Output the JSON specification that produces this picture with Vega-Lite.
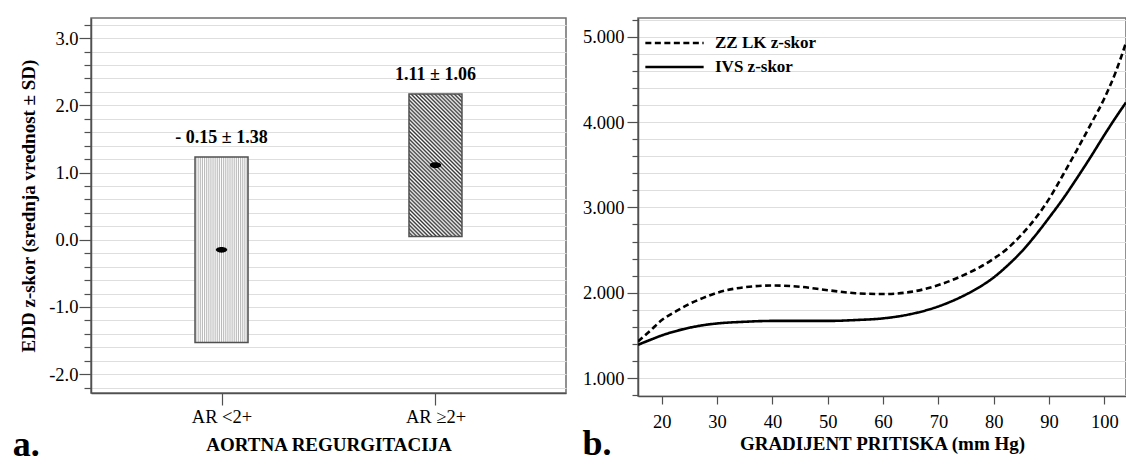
{
  "$schema": "https://vega.github.io/schema/vega-lite/v6.json",
  "padding": {"left": 11, "top": 9, "right": 0, "bottom": 0},
  "background": "white",
  "spacing": 14,
  "resolve": {"legend": {"strokeDash": "independent"}},
  "config": {
    "font": "Liberation Serif",
    "view": {"stroke": "#6e6e6e", "strokeWidth": 1.5},
    "axis": {
      "labelFont": "Liberation Serif", "titleFont": "Liberation Serif",
      "labelColor": "black", "titleColor": "black",
      "domainColor": "#505050", "tickColor": "#505050",
      "domainWidth": 1.5, "tickWidth": 1.2,
      "gridColor": "#dedede", "gridWidth": 1,
      "labelFontSize": 18.5, "titleFontSize": 19, "titleFontWeight": "bold",
      "labelOverlap": false, "labelBound": false
    }
  },
  "hconcat": [
    {
      "width": 475,
      "height": 375,
      "data": {"values": [
        {"grupa": "AR <2+", "mean": -0.15, "lo": -1.53, "hi": 1.23, "label": "- 0.15 ± 1.38"},
        {"grupa": "AR ≥2+", "mean": 1.11, "lo": 0.05, "hi": 2.17, "label": "1.11 ± 1.06"}
      ]},
      "title": {"text": "a.", "orient": "bottom", "anchor": "start", "frame": "bounds", "fontSize": 36, "font": "Liberation Serif", "fontWeight": "bold", "offset": -26, "dx": -7, "color": "black"},
      "layer": [
        {
          "transform": [{"filter": {"field": "grupa", "equal": "AR <2+"}}],
          "mark": {"type": "bar", "width": 53, "stroke": "#505050", "strokeWidth": 1.5,
            "fill": {"gradient": "linear", "x1": 0, "y1": 0, "x2": 1, "y2": 0, "stops": [
              {"offset": 0, "color": "#ffffff"}, {"offset": 0.02, "color": "#b8b8b8"}, {"offset": 0.04, "color": "#ffffff"}, {"offset": 0.06, "color": "#b8b8b8"}, {"offset": 0.08, "color": "#ffffff"},
              {"offset": 0.1, "color": "#b8b8b8"}, {"offset": 0.12, "color": "#ffffff"}, {"offset": 0.14, "color": "#b8b8b8"}, {"offset": 0.16, "color": "#ffffff"}, {"offset": 0.18, "color": "#b8b8b8"},
              {"offset": 0.2, "color": "#ffffff"}, {"offset": 0.22, "color": "#b8b8b8"}, {"offset": 0.24, "color": "#ffffff"}, {"offset": 0.26, "color": "#b8b8b8"}, {"offset": 0.28, "color": "#ffffff"},
              {"offset": 0.3, "color": "#b8b8b8"}, {"offset": 0.32, "color": "#ffffff"}, {"offset": 0.34, "color": "#b8b8b8"}, {"offset": 0.36, "color": "#ffffff"}, {"offset": 0.38, "color": "#b8b8b8"},
              {"offset": 0.4, "color": "#ffffff"}, {"offset": 0.42, "color": "#b8b8b8"}, {"offset": 0.44, "color": "#ffffff"}, {"offset": 0.46, "color": "#b8b8b8"}, {"offset": 0.48, "color": "#ffffff"},
              {"offset": 0.5, "color": "#b8b8b8"}, {"offset": 0.52, "color": "#ffffff"}, {"offset": 0.54, "color": "#b8b8b8"}, {"offset": 0.56, "color": "#ffffff"}, {"offset": 0.58, "color": "#b8b8b8"},
              {"offset": 0.6, "color": "#ffffff"}, {"offset": 0.62, "color": "#b8b8b8"}, {"offset": 0.64, "color": "#ffffff"}, {"offset": 0.66, "color": "#b8b8b8"}, {"offset": 0.68, "color": "#ffffff"},
              {"offset": 0.7, "color": "#b8b8b8"}, {"offset": 0.72, "color": "#ffffff"}, {"offset": 0.74, "color": "#b8b8b8"}, {"offset": 0.76, "color": "#ffffff"}, {"offset": 0.78, "color": "#b8b8b8"},
              {"offset": 0.8, "color": "#ffffff"}, {"offset": 0.82, "color": "#b8b8b8"}, {"offset": 0.84, "color": "#ffffff"}, {"offset": 0.86, "color": "#b8b8b8"}, {"offset": 0.88, "color": "#ffffff"},
              {"offset": 0.9, "color": "#b8b8b8"}, {"offset": 0.92, "color": "#ffffff"}, {"offset": 0.94, "color": "#b8b8b8"}, {"offset": 0.96, "color": "#ffffff"}, {"offset": 0.98, "color": "#b8b8b8"},
              {"offset": 1, "color": "#ffffff"}
            ]}},
          "encoding": {
            "x": {"field": "grupa", "type": "nominal", "title": "AORTNA REGURGITACIJA",
              "scale": {"type": "point", "padding": 0.61, "domain": ["AR <2+", "AR ≥2+"]},
              "axis": {"labelAngle": 0, "tickSize": 12, "labelPadding": 2, "titlePadding": 9.5, "grid": false}},
            "y": {"field": "lo", "type": "quantitative", "title": "EDD z-skor (srednja vrednost ± SD)",
              "scale": {"domain": [-2.28, 3.30], "nice": false, "zero": false},
              "axis": {
                "values": [-2.2,-2,-1.8,-1.6,-1.4,-1.2,-1,-0.8,-0.6,-0.4,-0.2,0,0.2,0.4,0.6,0.8,1,1.2,1.4,1.6,1.8,2,2.2,2.4,2.6,2.8,3,3.2],
                "tickCount": 200,
                "labelExpr": "abs(datum.value - round(datum.value)) < 0.001 ? replace(format(datum.value, '.1f'), '\u2212', '-') : ''",
                "tickSize": {"condition": {"test": "abs(datum.value - round(datum.value)) < 0.001", "value": 12}, "value": 7},
                "labelPadding": 1, "titlePadding": 10, "grid": true
              }},
            "y2": {"field": "hi"}
          }
        },
        {
          "transform": [{"filter": {"field": "grupa", "equal": "AR ≥2+"}}],
          "mark": {"type": "bar", "width": 53, "stroke": "#505050", "strokeWidth": 1.5,
            "fill": {"gradient": "linear", "x1": 0, "y1": 1, "x2": 0.4466, "y2": -0.205, "stops": [
              {"offset": 0, "color": "#333333"}, {"offset": 0.01, "color": "#ffffff"}, {"offset": 0.02, "color": "#333333"}, {"offset": 0.03, "color": "#ffffff"}, {"offset": 0.04, "color": "#333333"},
              {"offset": 0.05, "color": "#ffffff"}, {"offset": 0.06, "color": "#333333"}, {"offset": 0.07, "color": "#ffffff"}, {"offset": 0.08, "color": "#333333"}, {"offset": 0.09, "color": "#ffffff"},
              {"offset": 0.1, "color": "#333333"}, {"offset": 0.11, "color": "#ffffff"}, {"offset": 0.12, "color": "#333333"}, {"offset": 0.13, "color": "#ffffff"}, {"offset": 0.14, "color": "#333333"},
              {"offset": 0.15, "color": "#ffffff"}, {"offset": 0.16, "color": "#333333"}, {"offset": 0.17, "color": "#ffffff"}, {"offset": 0.18, "color": "#333333"}, {"offset": 0.19, "color": "#ffffff"},
              {"offset": 0.2, "color": "#333333"}, {"offset": 0.21, "color": "#ffffff"}, {"offset": 0.22, "color": "#333333"}, {"offset": 0.23, "color": "#ffffff"}, {"offset": 0.24, "color": "#333333"},
              {"offset": 0.25, "color": "#ffffff"}, {"offset": 0.26, "color": "#333333"}, {"offset": 0.27, "color": "#ffffff"}, {"offset": 0.28, "color": "#333333"}, {"offset": 0.29, "color": "#ffffff"},
              {"offset": 0.3, "color": "#333333"}, {"offset": 0.31, "color": "#ffffff"}, {"offset": 0.32, "color": "#333333"}, {"offset": 0.33, "color": "#ffffff"}, {"offset": 0.34, "color": "#333333"},
              {"offset": 0.35, "color": "#ffffff"}, {"offset": 0.36, "color": "#333333"}, {"offset": 0.37, "color": "#ffffff"}, {"offset": 0.38, "color": "#333333"}, {"offset": 0.39, "color": "#ffffff"},
              {"offset": 0.4, "color": "#333333"}, {"offset": 0.41, "color": "#ffffff"}, {"offset": 0.42, "color": "#333333"}, {"offset": 0.43, "color": "#ffffff"}, {"offset": 0.44, "color": "#333333"},
              {"offset": 0.45, "color": "#ffffff"}, {"offset": 0.46, "color": "#333333"}, {"offset": 0.47, "color": "#ffffff"}, {"offset": 0.48, "color": "#333333"}, {"offset": 0.49, "color": "#ffffff"},
              {"offset": 0.5, "color": "#333333"}, {"offset": 0.51, "color": "#ffffff"}, {"offset": 0.52, "color": "#333333"}, {"offset": 0.53, "color": "#ffffff"}, {"offset": 0.54, "color": "#333333"},
              {"offset": 0.55, "color": "#ffffff"}, {"offset": 0.56, "color": "#333333"}, {"offset": 0.57, "color": "#ffffff"}, {"offset": 0.58, "color": "#333333"}, {"offset": 0.59, "color": "#ffffff"},
              {"offset": 0.6, "color": "#333333"}, {"offset": 0.61, "color": "#ffffff"}, {"offset": 0.62, "color": "#333333"}, {"offset": 0.63, "color": "#ffffff"}, {"offset": 0.64, "color": "#333333"},
              {"offset": 0.65, "color": "#ffffff"}, {"offset": 0.66, "color": "#333333"}, {"offset": 0.67, "color": "#ffffff"}, {"offset": 0.68, "color": "#333333"}, {"offset": 0.69, "color": "#ffffff"},
              {"offset": 0.7, "color": "#333333"}, {"offset": 0.71, "color": "#ffffff"}, {"offset": 0.72, "color": "#333333"}, {"offset": 0.73, "color": "#ffffff"}, {"offset": 0.74, "color": "#333333"},
              {"offset": 0.75, "color": "#ffffff"}, {"offset": 0.76, "color": "#333333"}, {"offset": 0.77, "color": "#ffffff"}, {"offset": 0.78, "color": "#333333"}, {"offset": 0.79, "color": "#ffffff"},
              {"offset": 0.8, "color": "#333333"}, {"offset": 0.81, "color": "#ffffff"}, {"offset": 0.82, "color": "#333333"}, {"offset": 0.83, "color": "#ffffff"}, {"offset": 0.84, "color": "#333333"},
              {"offset": 0.85, "color": "#ffffff"}, {"offset": 0.86, "color": "#333333"}, {"offset": 0.87, "color": "#ffffff"}, {"offset": 0.88, "color": "#333333"}, {"offset": 0.89, "color": "#ffffff"},
              {"offset": 0.9, "color": "#333333"}, {"offset": 0.91, "color": "#ffffff"}, {"offset": 0.92, "color": "#333333"}, {"offset": 0.93, "color": "#ffffff"}, {"offset": 0.94, "color": "#333333"},
              {"offset": 0.95, "color": "#ffffff"}, {"offset": 0.96, "color": "#333333"}, {"offset": 0.97, "color": "#ffffff"}, {"offset": 0.98, "color": "#333333"}, {"offset": 0.99, "color": "#ffffff"},
              {"offset": 1, "color": "#333333"}
            ]}},
          "encoding": {
            "x": {"field": "grupa", "type": "nominal"},
            "y": {"field": "lo", "type": "quantitative"},
            "y2": {"field": "hi"}
          }
        },
        {
          "mark": {"type": "point", "shape": "M-1,0A1,0.5 0 1,1 1,0A1,0.5 0 1,1 -1,0Z", "filled": true, "color": "black", "size": 130, "opacity": 1},
          "encoding": {
            "x": {"field": "grupa", "type": "nominal"},
            "y": {"field": "mean", "type": "quantitative"}
          }
        },
        {
          "mark": {"type": "text", "fontWeight": "bold", "fontSize": 18, "dy": -14, "baseline": "alphabetic", "font": "Liberation Serif", "color": "black"},
          "encoding": {
            "x": {"field": "grupa", "type": "nominal"},
            "y": {"field": "hi", "type": "quantitative"},
            "text": {"field": "label"}
          }
        }
      ]
    },
    {
      "width": 488,
      "height": 378,
      "data": {"values": [
        {"serija": "ZZ LK z-skor", "g": 15.7, "z": 1.43},
        {"serija": "ZZ LK z-skor", "g": 18, "z": 1.56},
        {"serija": "ZZ LK z-skor", "g": 20, "z": 1.68},
        {"serija": "ZZ LK z-skor", "g": 22.5, "z": 1.78},
        {"serija": "ZZ LK z-skor", "g": 25, "z": 1.87},
        {"serija": "ZZ LK z-skor", "g": 27.5, "z": 1.94},
        {"serija": "ZZ LK z-skor", "g": 30, "z": 2.0},
        {"serija": "ZZ LK z-skor", "g": 35, "z": 2.065},
        {"serija": "ZZ LK z-skor", "g": 40, "z": 2.085},
        {"serija": "ZZ LK z-skor", "g": 45, "z": 2.07},
        {"serija": "ZZ LK z-skor", "g": 50, "z": 2.03},
        {"serija": "ZZ LK z-skor", "g": 55, "z": 1.995},
        {"serija": "ZZ LK z-skor", "g": 60, "z": 1.985},
        {"serija": "ZZ LK z-skor", "g": 65, "z": 2.01},
        {"serija": "ZZ LK z-skor", "g": 70, "z": 2.09},
        {"serija": "ZZ LK z-skor", "g": 75, "z": 2.22},
        {"serija": "ZZ LK z-skor", "g": 77.5, "z": 2.3},
        {"serija": "ZZ LK z-skor", "g": 80, "z": 2.4},
        {"serija": "ZZ LK z-skor", "g": 82.5, "z": 2.52},
        {"serija": "ZZ LK z-skor", "g": 85, "z": 2.68},
        {"serija": "ZZ LK z-skor", "g": 87.5, "z": 2.87},
        {"serija": "ZZ LK z-skor", "g": 90, "z": 3.1},
        {"serija": "ZZ LK z-skor", "g": 92.5, "z": 3.38},
        {"serija": "ZZ LK z-skor", "g": 95, "z": 3.67},
        {"serija": "ZZ LK z-skor", "g": 97.5, "z": 3.97},
        {"serija": "ZZ LK z-skor", "g": 100, "z": 4.28},
        {"serija": "ZZ LK z-skor", "g": 102, "z": 4.58},
        {"serija": "ZZ LK z-skor", "g": 103.9, "z": 4.93},
        {"serija": "IVS z-skor", "g": 15.7, "z": 1.39},
        {"serija": "IVS z-skor", "g": 18, "z": 1.45},
        {"serija": "IVS z-skor", "g": 20, "z": 1.5},
        {"serija": "IVS z-skor", "g": 22.5, "z": 1.55},
        {"serija": "IVS z-skor", "g": 25, "z": 1.59},
        {"serija": "IVS z-skor", "g": 27.5, "z": 1.62},
        {"serija": "IVS z-skor", "g": 30, "z": 1.64},
        {"serija": "IVS z-skor", "g": 35, "z": 1.66},
        {"serija": "IVS z-skor", "g": 40, "z": 1.67},
        {"serija": "IVS z-skor", "g": 45, "z": 1.67},
        {"serija": "IVS z-skor", "g": 50, "z": 1.67},
        {"serija": "IVS z-skor", "g": 55, "z": 1.68},
        {"serija": "IVS z-skor", "g": 60, "z": 1.7},
        {"serija": "IVS z-skor", "g": 65, "z": 1.75},
        {"serija": "IVS z-skor", "g": 70, "z": 1.84},
        {"serija": "IVS z-skor", "g": 75, "z": 1.98},
        {"serija": "IVS z-skor", "g": 77.5, "z": 2.07},
        {"serija": "IVS z-skor", "g": 80, "z": 2.18},
        {"serija": "IVS z-skor", "g": 82.5, "z": 2.32},
        {"serija": "IVS z-skor", "g": 85, "z": 2.48},
        {"serija": "IVS z-skor", "g": 87.5, "z": 2.67},
        {"serija": "IVS z-skor", "g": 90, "z": 2.88},
        {"serija": "IVS z-skor", "g": 92.5, "z": 3.1},
        {"serija": "IVS z-skor", "g": 95, "z": 3.34},
        {"serija": "IVS z-skor", "g": 97.5, "z": 3.59},
        {"serija": "IVS z-skor", "g": 100, "z": 3.85},
        {"serija": "IVS z-skor", "g": 102, "z": 4.05},
        {"serija": "IVS z-skor", "g": 103.9, "z": 4.23}
      ]},
      "title": {"text": "b.", "orient": "bottom", "anchor": "start", "frame": "bounds", "fontSize": 36, "font": "Liberation Serif", "fontWeight": "bold", "offset": -26, "dx": 0, "color": "black"},
      "mark": {"type": "line", "color": "black", "strokeWidth": 2.6, "interpolate": "monotone", "clip": true},
      "encoding": {
        "x": {"field": "g", "type": "quantitative", "title": "GRADIJENT PRITISKA (mm Hg)",
          "scale": {"domain": [15.7, 103.9], "nice": false, "zero": false},
          "axis": {"values": [20, 30, 40, 50, 60, 70, 80, 90, 100], "tickCount": 200, "format": "d", "tickSize": 8, "labelPadding": 8, "titlePadding": 3.5, "grid": false, "labelFlush": false}},
        "y": {"field": "z", "type": "quantitative", "title": null,
          "scale": {"domain": [0.79, 5.22], "nice": false, "zero": false},
          "axis": {
            "values": [0.8,1,1.2,1.4,1.6,1.8,2,2.2,2.4,2.6,2.8,3,3.2,3.4,3.6,3.8,4,4.2,4.4,4.6,4.8,5,5.2],
            "tickCount": 200,
            "labelExpr": "abs(datum.value - round(datum.value)) < 0.001 ? format(datum.value, '.3f') : ''",
            "tickSize": {"condition": {"test": "abs(datum.value - round(datum.value)) < 0.001", "value": 11}, "value": 6},
            "labelPadding": 3, "grid": true
          }},
        "strokeDash": {"field": "serija", "type": "nominal",
          "scale": {"domain": ["ZZ LK z-skor", "IVS z-skor"], "range": [[6, 3.5], [1, 0]]},
          "legend": {"title": null, "orient": "none", "legendX": 6, "legendY": 16, "symbolType": "stroke", "symbolSize": 3400, "symbolStrokeWidth": 2.6, "symbolStrokeColor": "black", "labelFont": "Liberation Serif", "labelFontSize": 17, "labelFontWeight": "bold", "labelColor": "black", "rowPadding": 6, "labelOffset": 10, "clipHeight": 18}}
      }
    }
  ]
}
